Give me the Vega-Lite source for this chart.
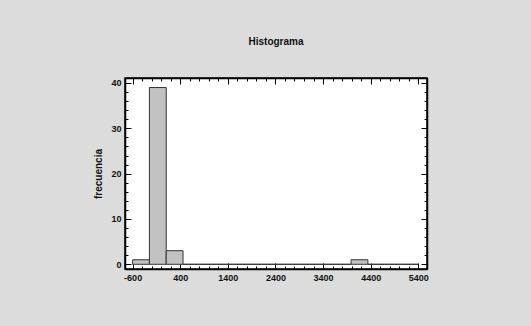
{
  "$schema": "https://vega.github.io/schema/vega-lite/v6.json",
  "autosize": {"type": "none"},
  "padding": {"left": 125, "top": 78, "right": 105, "bottom": 57},
  "width": 302,
  "height": 191,
  "background": "#dcdcdc",
  "title": {
    "text": "Histograma",
    "font": "Liberation Sans",
    "fontSize": 10,
    "fontWeight": "bold",
    "color": "#111111",
    "anchor": "middle",
    "frame": "group",
    "offset": 31
  },
  "config": {
    "view": {"fill": "white", "stroke": "black", "strokeWidth": 1.5},
    "axis": {
      "labelFont": "Liberation Sans",
      "labelFontSize": 9,
      "labelFontWeight": "bold",
      "labelColor": "#111111",
      "titleFont": "Liberation Sans",
      "titleFontSize": 10,
      "titleFontWeight": "bold",
      "titleColor": "#111111",
      "domainColor": "black",
      "domainWidth": 1.5,
      "tickColor": "black",
      "tickWidth": 1,
      "grid": false
    }
  },
  "data": {
    "values": [
      {"x0": -600, "x1": -247.06, "n": 1},
      {"x0": -247.06, "x1": 105.88, "n": 39},
      {"x0": 105.88, "x1": 458.82, "n": 3},
      {"x0": 458.82, "x1": 811.76, "n": 0},
      {"x0": 811.76, "x1": 1164.71, "n": 0},
      {"x0": 1164.71, "x1": 1517.65, "n": 0},
      {"x0": 1517.65, "x1": 1870.59, "n": 0},
      {"x0": 1870.59, "x1": 2223.53, "n": 0},
      {"x0": 2223.53, "x1": 2576.47, "n": 0},
      {"x0": 2576.47, "x1": 2929.41, "n": 0},
      {"x0": 2929.41, "x1": 3282.35, "n": 0},
      {"x0": 3282.35, "x1": 3635.29, "n": 0},
      {"x0": 3635.29, "x1": 3988.24, "n": 0},
      {"x0": 3988.24, "x1": 4341.18, "n": 1},
      {"x0": 4341.18, "x1": 4694.12, "n": 0},
      {"x0": 4694.12, "x1": 5047.06, "n": 0},
      {"x0": 5047.06, "x1": 5400, "n": 0}
    ]
  },
  "resolve": {"axis": {"x": "independent", "y": "independent"}},
  "layer": [
    {
      "mark": {"type": "bar", "fill": "#c2c2c2", "stroke": "#333333", "strokeWidth": 1},
      "encoding": {
        "x": {
          "field": "x0",
          "type": "quantitative",
          "scale": {"domain": [-760, 5583], "nice": false, "zero": false},
          "axis": {
            "orient": "bottom",
            "title": null,
            "values": [-600,-400,-200,0,200,400,600,800,1000,1200,1400,1600,1800,2000,2200,2400,2600,2800,3000,3200,3400,3600,3800,4000,4200,4400,4600,4800,5000,5200,5400],
            "labelExpr": "(datum.value + 600) % 1000 === 0 ? ('' + datum.value) : ''",
            "tickSize": {"condition": {"test": "(datum.value + 600) % 1000 === 0", "value": -6}, "value": -3},
            "labelPadding": 10,
            "labelOverlap": false,
            "labelFlush": false
          }
        },
        "x2": {"field": "x1"},
        "y": {
          "field": "n",
          "type": "quantitative",
          "scale": {"domain": [-1.04, 41.1], "nice": false, "zero": false},
          "axis": {
            "orient": "left",
            "title": "frecuencia",
            "titlePadding": 7,
            "values": [0,2,4,6,8,10,12,14,16,18,20,22,24,26,28,30,32,34,36,38,40],
            "labelExpr": "datum.value % 10 === 0 ? ('' + datum.value) : ''",
            "tickSize": {"condition": {"test": "datum.value % 10 === 0", "value": -6}, "value": -3},
            "labelPadding": 10,
            "labelOverlap": false
          }
        },
        "y2": {"datum": 0}
      }
    },
    {
      "mark": {"type": "bar", "opacity": 0},
      "encoding": {
        "x": {
          "field": "x0",
          "type": "quantitative",
          "axis": {
            "orient": "top",
            "title": null,
            "labels": false,
            "values": [-600,-400,-200,0,200,400,600,800,1000,1200,1400,1600,1800,2000,2200,2400,2600,2800,3000,3200,3400,3600,3800,4000,4200,4400,4600,4800,5000,5200,5400],
            "tickSize": {"condition": {"test": "(datum.value + 600) % 1000 === 0", "value": -6}, "value": -3}
          }
        },
        "x2": {"field": "x1"},
        "y": {
          "field": "n",
          "type": "quantitative",
          "axis": {
            "orient": "right",
            "title": null,
            "labels": false,
            "values": [0,2,4,6,8,10,12,14,16,18,20,22,24,26,28,30,32,34,36,38,40],
            "tickSize": {"condition": {"test": "datum.value % 10 === 0", "value": -6}, "value": -3}
          }
        },
        "y2": {"datum": 0}
      }
    }
  ]
}
